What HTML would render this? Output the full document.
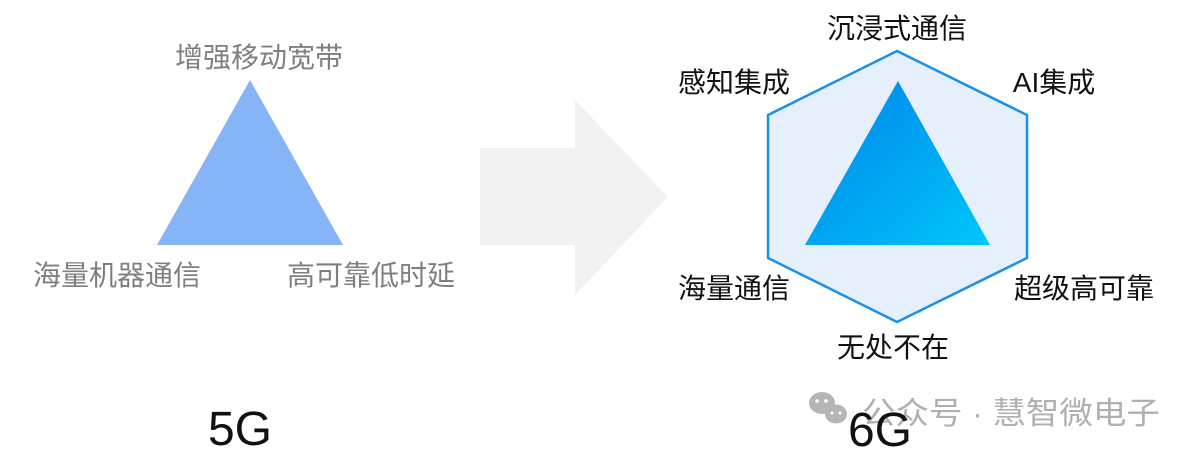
<!DOCTYPE html>
<html><head><meta charset="utf-8"><style>
body{margin:0;background:#fff;}
svg{display:block;font-family:"Liberation Sans","Noto Sans CJK SC",sans-serif;}
</style></head><body>
<svg width="1200" height="461" viewBox="0 0 1200 461">
<defs>
<linearGradient id="g" x1="0" y1="0" x2="1" y2="1">
<stop offset="0" stop-color="#0082ea"/><stop offset="1" stop-color="#00c6fa"/>
</linearGradient>
</defs>
<polygon points="250,80 157,245 343,245" fill="#86b5f7"/>
<text x="259" y="67" font-size="28" fill="#7f7f7f" text-anchor="middle">增强移动宽带</text>
<text x="117" y="285" font-size="28" fill="#7f7f7f" text-anchor="middle">海量机器通信</text>
<text x="371" y="285" font-size="28" fill="#7f7f7f" text-anchor="middle">高可靠低时延</text>
<text x="240" y="445" font-size="48" fill="#111" text-anchor="middle">5G</text>
<polygon points="480,148 575,148 575,100 668,197 575,295 575,245 480,245" fill="#f2f2f2"/>
<polygon points="897,51 1027,115 1027,258 897,322 768,258 768,115" fill="#e5f0fc" stroke="#1a90ea" stroke-width="2.5"/>
<polygon points="898,81 805,245 990,245" fill="url(#g)"/>
<g font-size="28" fill="#111">
<text x="897" y="38" text-anchor="middle">沉浸式通信</text>
<text x="734" y="92" text-anchor="middle">感知集成</text>
<text x="1054" y="92" text-anchor="middle">AI集成</text>
<text x="734" y="298" text-anchor="middle">海量通信</text>
<text x="1084" y="298" text-anchor="middle">超级高可靠</text>
<text x="893" y="357" text-anchor="middle">无处不在</text>
</g>
<g fill="#b5b5b5">
<ellipse cx="822" cy="403" rx="13" ry="11"/>
<ellipse cx="836" cy="414" rx="11" ry="9.5"/>
</g>
<g fill="#fff"><circle cx="817" cy="401" r="1.8"/><circle cx="826" cy="401" r="1.8"/><circle cx="832" cy="413" r="1.5"/><circle cx="840" cy="413" r="1.5"/></g>
<text x="862" y="424" font-size="31" fill="#b0b0b0" textLength="298" lengthAdjust="spacingAndGlyphs">公众号 · 慧智微电子</text>
<text x="880" y="446" font-size="48" fill="#111" text-anchor="middle">6G</text>
</svg>
</body></html>
